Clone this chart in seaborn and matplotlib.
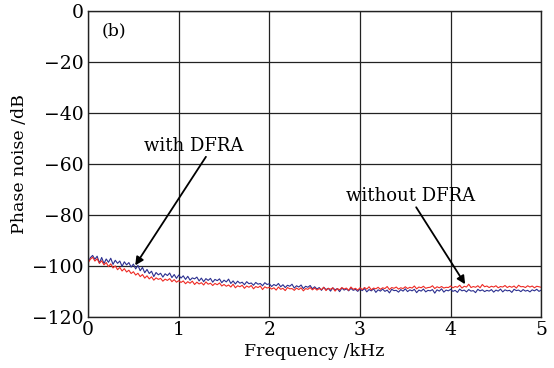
import numpy as np
import pandas as pd
import matplotlib
matplotlib.use("Agg")
import matplotlib.pyplot as plt
import seaborn as sns

# frequency grid (kHz), 0.025 kHz spacing
freq = [round(i * 0.025, 3) for i in range(201)]

blue_vals = [
    -98.5, -96.8, -95.9, -97.4, -96.2, -98.9, -96.7, -99.1, -97.3, -98.6, -97.0, -99.4, -97.8, -99.0, -98.1, -100.2, -98.4, -99.6, -98.7, -100.5,
    -99.3, -101.2, -99.8, -101.9, -100.6, -102.7, -101.4, -103.0, -102.1, -104.2, -102.6, -103.5, -102.9, -104.4, -103.1, -103.8, -102.8, -104.6, -103.4, -104.9,
    -103.6, -104.8, -103.9, -105.3, -104.1, -105.6, -104.7, -105.1, -104.4, -105.9, -104.8, -106.2, -105.0, -105.7, -104.9, -106.4, -105.3, -105.8, -105.1, -106.6,
    -105.6, -106.3, -105.2, -106.9, -105.9, -107.1, -106.0, -106.8, -106.4, -107.4, -106.2, -107.0, -106.7, -107.6, -106.5, -107.2, -106.9, -107.8, -106.6, -107.3,
    -107.0, -108.1, -107.3, -107.8, -106.9, -108.2, -107.4, -108.5, -107.6, -108.0, -107.2, -108.7, -107.8, -108.3, -107.5, -108.9, -108.0, -108.4, -107.7, -109.0,
    -108.2, -109.1, -108.5, -109.6, -108.4, -109.3, -108.8, -109.9, -108.6, -109.4, -108.9, -110.1, -108.7, -109.5, -109.0, -109.8, -108.8, -109.6, -109.2, -110.0,
    -109.1, -109.7, -108.9, -110.2, -109.3, -109.8, -109.0, -110.4, -109.4, -109.9, -109.1, -110.0, -109.5, -110.6, -109.2, -109.7, -109.6, -110.3, -109.3, -109.9,
    -109.0, -110.1, -109.4, -109.8, -109.2, -110.5, -109.5, -109.9, -109.1, -110.2, -109.6, -109.8, -109.3, -110.7, -109.4, -109.9, -109.0, -110.3, -109.5, -109.8,
    -109.2, -110.0, -109.6, -110.4, -109.1, -109.8, -109.5, -110.2, -109.3, -109.9, -109.7, -110.5, -109.2, -109.8, -109.4, -110.1, -109.6, -109.9, -109.3, -110.3,
    -109.5, -109.9, -109.1, -110.2, -109.4, -109.8, -109.6, -110.4, -109.2, -109.7, -109.5, -110.1, -109.3, -109.9, -109.6, -110.2, -109.4, -109.8, -109.2, -110.0, -109.5,
]

red_vals = [
    -98.8, -97.4, -96.6, -98.1, -97.2, -99.0, -98.0, -99.6, -98.7, -100.3, -99.2, -100.8, -100.0, -101.5, -100.6, -102.0, -101.1, -102.4, -101.7, -103.0,
    -102.3, -103.6, -102.9, -104.2, -103.4, -104.8, -103.9, -105.1, -104.3, -105.6, -104.7, -105.3, -104.9, -106.0, -105.2, -105.7, -105.0, -106.2, -105.4, -106.4,
    -105.8, -106.5, -105.9, -107.0, -106.2, -106.8, -106.0, -107.3, -106.4, -107.1, -106.6, -107.5, -106.3, -107.2, -106.8, -107.7, -106.9, -107.4, -106.7, -107.9,
    -107.3, -108.0, -107.5, -108.3, -107.2, -108.6, -107.8, -108.2, -107.6, -108.8, -107.9, -108.4, -107.7, -109.0, -108.1, -108.5, -107.9, -109.3, -108.2, -108.7,
    -108.4, -109.1, -108.6, -109.5, -108.3, -109.2, -108.8, -109.7, -108.5, -109.0, -108.9, -109.6, -108.7, -109.3, -108.6, -109.8, -108.9, -109.2, -108.5, -109.4,
    -108.7, -109.5, -108.9, -109.3, -108.4, -109.7, -108.8, -109.2, -108.6, -109.9, -108.9, -109.4, -108.5, -109.1, -108.7, -109.6, -108.3, -109.2, -108.8, -109.5,
    -108.6, -109.3, -108.5, -109.1, -108.2, -109.4, -108.7, -109.0, -108.4, -109.2, -108.6, -108.9, -108.1, -109.3, -108.5, -108.8, -108.3, -109.1, -108.6, -108.9,
    -108.2, -108.9, -108.4, -108.7, -107.9, -109.0, -108.3, -108.6, -108.0, -108.8, -108.5, -108.4, -107.8, -108.9, -108.2, -108.6, -108.1, -108.7, -108.4, -108.5,
    -107.9, -108.6, -108.1, -108.4, -107.6, -108.7, -108.0, -108.3, -107.2, -108.5, -108.1, -108.4, -107.8, -108.6, -107.3, -108.2, -107.9, -108.5, -108.0, -108.3,
    -107.8, -108.6, -108.1, -108.3, -107.7, -108.5, -108.0, -108.4, -107.9, -108.7, -107.6, -108.2, -108.1, -108.5, -107.8, -108.3, -107.9, -108.6, -108.0, -108.2, -108.4,
]

x_ticks = [0, 1, 2, 3, 4, 5]
y_ticks = [0, -20, -40, -60, -80, -100, -120]

sns.set_theme(style="whitegrid")
plt.rcParams['font.family'] = ['DejaVu Serif']
plt.rcParams['text.color'] = 'black'
plt.rcParams['axes.labelcolor'] = 'black'

df = pd.DataFrame({
    "freq": freq + freq,
    "noise": blue_vals + red_vals,
    "series": ["blue"] * len(freq) + ["red"] * len(freq),
})

fig = plt.figure(figsize=(5.54, 3.68), dpi=100)
ax = fig.add_axes([0.159, 0.139, 0.818, 0.831])

sns.lineplot(data=df, x="freq", y="noise", hue="series",
             palette={"blue": "#2b2f8f", "red": "#ee2a24"},
             linewidth=0.8, legend=False, ax=ax, estimator=None)

ax.set_xlim(0, 5)
ax.set_ylim(-120, 0)
ax.set_xticks(x_ticks)
ax.set_yticks(y_ticks)
ax.set_xticklabels([str(v) for v in x_ticks], fontsize=13.5)
ax.set_yticklabels([str(v).replace('-', '\u2212') for v in y_ticks], fontsize=13.5)
ax.grid(True, color="#222222", linewidth=0.9)
for s in ax.spines.values():
    s.set_color("#222222")
    s.set_linewidth(1.0)
ax.tick_params(length=0, pad=3, colors="black")
ax.set_xlabel("Frequency /kHz", fontsize=12.5, labelpad=3, color="black")
ax.set_ylabel("Phase noise /dB", fontsize=12.5, labelpad=3, color="black")

ax.text(0.28, -7.8, "(b)", fontsize=12.5, ha="center", va="center", color="black")

ax.text(1.16, -53.0, "with DFRA", fontsize=13, ha="center", va="center", color="black")
ax.annotate("", xy=(0.52, -99.8), xytext=(1.30, -57.2),
            arrowprops=dict(arrowstyle="-|>", color="black", lw=1.3,
                            shrinkA=0, shrinkB=0, mutation_scale=12))
ax.text(3.56, -72.7, "without DFRA", fontsize=13, ha="center", va="center", color="black")
ax.annotate("", xy=(4.16, -107.2), xytext=(3.62, -77.0),
            arrowprops=dict(arrowstyle="-|>", color="black", lw=1.3,
                            shrinkA=0, shrinkB=0, mutation_scale=12))

fig.savefig("out.png", dpi=100, facecolor="white")
